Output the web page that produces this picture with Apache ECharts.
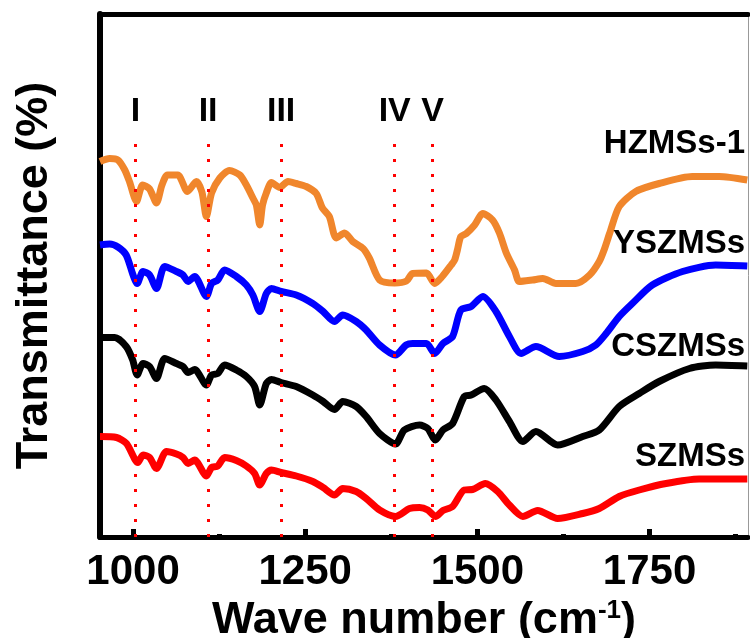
<!DOCTYPE html>
<html>
<head>
<meta charset="utf-8">
<script src="https://cdn.jsdelivr.net/npm/echarts@6/dist/echarts.min.js"></script>
<style>
  html, body { margin: 0; padding: 0; background: #fff; }
  #chart { width: 750px; height: 638px; }
</style>
</head>
<body>
<div id="chart"></div>
<script>
'use strict';

// spectra (wave number, arbitrary offset transmittance)
var hzmsWave = [952, 966, 978, 988, 995, 1005, 1014, 1024, 1034, 1042, 1050, 1065, 1079, 1092, 1100, 1106.5, 1114, 1126, 1140, 1155, 1164.5, 1174, 1179, 1184, 1188, 1193.5, 1201, 1213, 1225, 1237, 1251.5, 1266, 1275, 1285, 1295, 1307, 1319, 1334, 1343, 1358, 1380, 1397, 1406, 1426, 1438, 1449, 1462, 1467, 1471, 1476, 1484, 1496, 1508, 1522, 1532, 1542, 1554, 1561, 1580, 1595, 1614, 1643, 1663, 1677, 1684, 1692, 1706, 1730, 1764, 1812, 1851, 1892];
var hzmsT = [75.1, 75.7, 75.4, 73.4, 71, 67.1, 70.4, 69.6, 66.8, 70.4, 72.4, 72.4, 69.1, 71.1, 69, 64.1, 68.8, 71.8, 73.3, 72.4, 70.4, 67.8, 66.4, 62.4, 66.4, 68.8, 70.9, 69.9, 71.1, 70.7, 70.1, 68.7, 65.8, 64.1, 59.8, 60.8, 59.1, 57.7, 55.8, 51.4, 50.8, 51.2, 52.7, 52.8, 50.7, 52.1, 54.4, 55.4, 57.4, 60.1, 60.7, 62.4, 64.7, 63.4, 60.8, 56.8, 53.4, 51.1, 51.4, 51.7, 50.7, 50.7, 52.4, 55.1, 57.4, 60.7, 66.1, 69.1, 70.7, 72.1, 72.1, 71.4];

var yszmsWave = [952, 966, 978, 990, 1000, 1006, 1014.5, 1024, 1034, 1046, 1063, 1072.5, 1080, 1089.5, 1106.5, 1114, 1123, 1133, 1150, 1164.5, 1174, 1184, 1193.5, 1201, 1215, 1237, 1261, 1276, 1292.5, 1304.5, 1324, 1338.5, 1358, 1381, 1396.5, 1406, 1426, 1438, 1450, 1464, 1476, 1491, 1508, 1527, 1546.5, 1563.5, 1585, 1619, 1653, 1672, 1687, 1706, 1725, 1754, 1798, 1846, 1892];
var yszmsT = [58.4, 58.6, 58, 56.4, 52.4, 50.7, 53.1, 52.4, 49.7, 54.1, 53.1, 52.4, 51.1, 52.1, 48.1, 50.7, 51.4, 53.4, 52.1, 50.4, 48.4, 45.1, 48.7, 49.7, 49.1, 48.4, 46.7, 45.1, 43.1, 44.4, 43.1, 41.4, 38.4, 36.4, 38.4, 38.7, 38.7, 36.7, 38.7, 40.1, 45.4, 46.1, 48.1, 45.1, 40.1, 36.7, 38.1, 36.1, 37.1, 38.4, 40.7, 44.1, 46.7, 50.4, 53.1, 54.4, 54.2];

var cszmsWave = [952, 973.5, 990, 999.5, 1006, 1014.5, 1024, 1034, 1046, 1063, 1072.5, 1080, 1089.5, 1106.5, 1114, 1123, 1133, 1150, 1164.5, 1176.5, 1184, 1193.5, 1201, 1215, 1237, 1261, 1276, 1292.5, 1304.5, 1324, 1338.5, 1358, 1381, 1394, 1416, 1428, 1439, 1450, 1464, 1481, 1491, 1510, 1527, 1546.5, 1566, 1585, 1616.5, 1653, 1677, 1706, 1735, 1764, 1808, 1846, 1892];
var cszmsT = [39.9, 39.9, 38.1, 35.4, 32.4, 34.7, 34.1, 31.7, 35.7, 34.7, 34.1, 32.9, 33.5, 30.4, 32.4, 32.7, 34.4, 33.4, 32.1, 30.1, 26.4, 30.7, 31.5, 30.9, 30.1, 28.4, 27.1, 25.5, 27.1, 26.1, 24.1, 20.7, 18.6, 21.4, 22.4, 21.7, 19.4, 21.4, 22.7, 28.1, 28.4, 29.7, 27.4, 23.1, 19.1, 21.1, 18.4, 20.1, 21.4, 26.1, 28.7, 31.1, 33.7, 34.4, 34.2];

var szmsWave = [952, 976, 990.5, 1007, 1014.5, 1024, 1034, 1048.5, 1063, 1072.5, 1080, 1089.5, 1106.5, 1114, 1123, 1133, 1150, 1164.5, 1176.5, 1184, 1193.5, 1201, 1215, 1237, 1261, 1276, 1292.5, 1304.5, 1324, 1338.5, 1358, 1381, 1401.5, 1416, 1428, 1439, 1450, 1464, 1481, 1493, 1511.5, 1529.5, 1546.5, 1566, 1587.5, 1616.5, 1653, 1677, 1706, 1735, 1774, 1822, 1892];
var szmsT = [20.1, 19.9, 18.7, 14.9, 16.4, 15.9, 13.7, 17.1, 16.6, 15.9, 14.7, 15.4, 12.2, 13.9, 14.2, 15.9, 15.3, 14.2, 12.7, 10.4, 12.7, 13.4, 12.9, 12.2, 11.1, 9.9, 8.4, 9.7, 9.1, 7.7, 5.4, 4.1, 5.7, 5.9, 5.4, 4.1, 5.3, 6.1, 9.4, 9.5, 10.7, 9.1, 6.4, 4.1, 5.3, 3.7, 4.7, 5.7, 8.1, 9.4, 10.7, 11.6, 11.6];

var sampleNames = ['HZMSs-1', 'YSZMSs', 'CSZMSs', 'SZMSs'];
var sampleColors = ['#f0862c', '#0000ff', '#000000', '#ff0000'];

var peakWaves = [1003.5, 1109, 1215, 1380, 1435];
var peakNames = ['I', 'II', 'III', 'IV', 'V'];
var peakTop = 78.8;

var majorTicks = [1000, 1250, 1500, 1750];
var minorTicks = [1125, 1375, 1625, 1875];

var xMin = 952, xMax = 1893;
var yMin = 0, yMax = 104.6;

var FONT = '"Liberation Sans", Arial, Helvetica, sans-serif';

function zip(xs, ys) {
    return xs.map(function (x, i) { return [x, ys[i]]; });
}

var spectra = [
    zip(hzmsWave, hzmsT),
    zip(yszmsWave, yszmsT),
    zip(cszmsWave, cszmsT),
    zip(szmsWave, szmsT)
];

var chart = echarts.init(document.getElementById('chart'), null, { renderer: 'canvas' });

var series = spectra.map(function (data, i) {
    return {
        name: sampleNames[i],
        type: 'line',
        data: data,
        showSymbol: false,
        smooth: 0.25,
        lineStyle: { color: sampleColors[i], width: 7 },
        z: 2
    };
});

// dotted peak markers with roman numeral labels
series.push({
    type: 'line',
    data: [],
    z: 5,
    silent: true,
    markLine: {
        symbol: 'none',
        silent: true,
        animation: false,
        lineStyle: { color: '#ff0000', type: [3, 12], width: 3 },
        label: {
            show: true,
            position: 'end',
            formatter: '{b}',
            color: '#000',
            fontSize: 34,
            fontWeight: 'bold',
            fontFamily: FONT,
            distance: 14
        },
        data: peakWaves.map(function (w, i) {
            return [{ coord: [w, 0], name: peakNames[i] }, { coord: [w, peakTop] }];
        })
    }
});

var hidden = { show: false };

var option = {
    animation: false,
    backgroundColor: '#fff',
    grid: { left: 100, right: 2, top: 14, bottom: 101, outerBoundsMode: 'none', containLabel: false },
    xAxis: [
        {
            type: 'value',
            min: xMin,
            max: xMax,
            position: 'bottom',
            axisLine: { lineStyle: { color: '#000', width: 5 } },
            axisTick: { inside: true, length: 8, customValues: majorTicks, lineStyle: { color: '#000', width: 5 } },
            axisLabel: {
                customValues: majorTicks,
                formatter: function (v) { return String(v); },
                color: '#000',
                fontSize: 42,
                fontWeight: 'bold',
                fontFamily: FONT,
                margin: 14
            },
            splitLine: hidden,
            name: 'Wave number (cm{sup|-1})',
            nameLocation: 'middle',
            nameGap: 53,
            nameTextStyle: {
                color: '#000',
                fontSize: 45,
                fontWeight: 'bold',
                fontFamily: FONT,
                rich: {
                    sup: {
                        fontSize: 26,
                        fontWeight: 'bold',
                        fontFamily: FONT,
                        color: '#000',
                        verticalAlign: 'top'
                    }
                }
            }
        },
        {
            type: 'value',
            min: xMin,
            max: xMax,
            position: 'bottom',
            axisLine: hidden,
            axisTick: { inside: true, length: 3, customValues: minorTicks, lineStyle: { color: '#000', width: 5 } },
            axisLabel: hidden,
            splitLine: hidden
        },
        {
            type: 'value',
            min: xMin,
            max: xMax,
            position: 'top',
            axisLine: { lineStyle: { color: '#000', width: 5 } },
            axisTick: hidden,
            axisLabel: hidden,
            splitLine: hidden
        }
    ],
    yAxis: [
        {
            type: 'value',
            min: yMin,
            max: yMax,
            position: 'left',
            axisLine: { show: true, lineStyle: { color: '#000', width: 6 } },
            axisTick: hidden,
            axisLabel: hidden,
            splitLine: hidden,
            name: 'Transmittance (%)',
            nameLocation: 'middle',
            nameRotate: 90,
            nameGap: 43,
            nameTextStyle: {
                color: '#000',
                fontSize: 45,
                fontWeight: 'bold',
                fontFamily: FONT
            }
        },
        {
            type: 'value',
            min: yMin,
            max: yMax,
            position: 'right',
            axisLine: { show: true, lineStyle: { color: '#999', width: 1 } },
            axisTick: hidden,
            axisLabel: hidden,
            splitLine: hidden
        }
    ],
    graphic: sampleNames.map(function (name, i) {
        var ys = [145, 245, 348, 458];
        return {
            type: 'text',
            right: 5,
            top: ys[i] - 18,
            z: 10,
            style: {
                text: name,
                fill: '#000',
                font: 'bold 33px ' + FONT
            }
        };
    }),
    series: series
};

chart.setOption(option);
</script>
</body>
</html>
